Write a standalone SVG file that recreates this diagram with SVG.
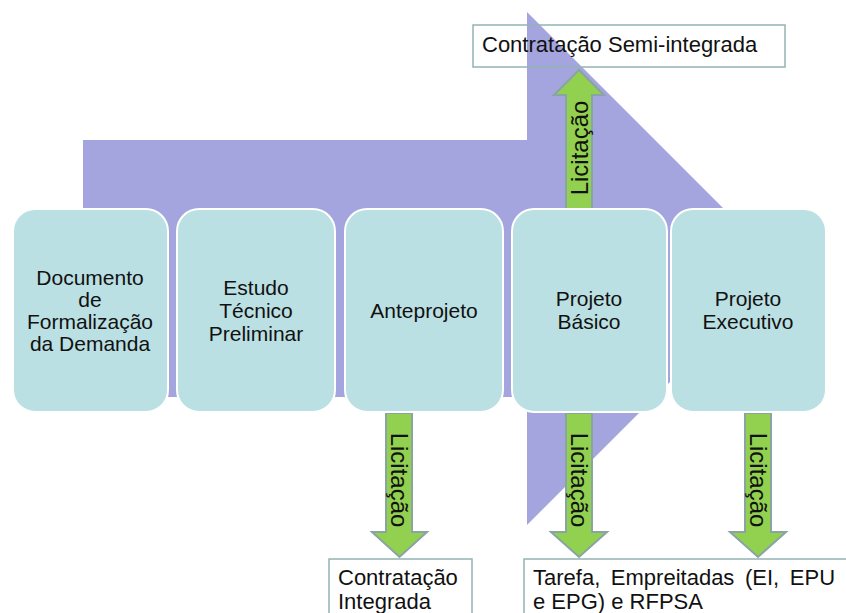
<svg xmlns="http://www.w3.org/2000/svg" width="846" height="613" viewBox="0 0 846 613">
<style>
.bg{fill:#a4a4df}
.node rect{fill:#bbe0e3;stroke:#ffffff;stroke-width:2}
.node text{font-family:"Liberation Sans",Arial,sans-serif;font-size:21px;fill:#111;text-anchor:middle}
.arrow{fill:#92d050;stroke:#8aa3a3;stroke-width:2}
.lbl{font-family:"Liberation Sans",Arial,sans-serif;font-size:24px;fill:#111;text-anchor:middle;dominant-baseline:central}
.out rect{fill:none;stroke:#94b3b3;stroke-width:1.5}
.out text{font-family:"Liberation Sans",Arial,sans-serif;font-size:22px;fill:#111}
</style>
<rect width="846" height="613" fill="#ffffff"/>
<polygon class="bg" points="83,140 527,140 527,12 783.5,268.5 527,525 527,397 83,397"/>

<g id="out-semi" class="out">
<rect x="473" y="25" width="312" height="42"/>
<text x="482" y="52">Contratação Semi-integrada</text>
</g>

<g id="connectors">
<g id="arrow-up">
<polygon class="arrow" points="566,213 566,95 554,95 579,70 604,95 592,95 592,213"/>
<text class="lbl" transform="translate(579,148) rotate(-90)">Licitação</text>
</g>
<g id="arrow-down-1">
<polygon class="arrow" points="386,413 412,413 412,532 427,532 399.5,557 372,532 386,532"/>
<text class="lbl" transform="translate(399,480) rotate(90)">Licitação</text>
</g>
<g id="arrow-down-2">
<polygon class="arrow" points="566,413 592,413 592,532 607,532 579,557 551,532 566,532"/>
<text class="lbl" transform="translate(579,480) rotate(90)">Licitação</text>
</g>
<g id="arrow-down-3">
<polygon class="arrow" points="745,413 771,413 771,532 786,532 758,557 730,532 745,532"/>
<text class="lbl" transform="translate(758,480) rotate(90)">Licitação</text>
</g>
</g>

<g id="n1" class="node">
<rect x="13" y="209" width="155" height="203" rx="22"/>
<text x="90" y="285">Documento</text>
<text x="90" y="307">de</text>
<text x="90" y="329">Formalização</text>
<text x="90" y="351">da Demanda</text>
</g>
<g id="n2" class="node">
<rect x="177" y="209" width="158" height="203" rx="22"/>
<text x="256" y="295">Estudo</text>
<text x="256" y="318">Técnico</text>
<text x="256" y="341">Preliminar</text>
</g>
<g id="n3" class="node">
<rect x="345" y="209" width="158" height="203" rx="22"/>
<text x="424" y="318">Anteprojeto</text>
</g>
<g id="n4" class="node">
<rect x="512" y="209" width="155" height="203" rx="22"/>
<text x="589" y="306">Projeto</text>
<text x="589" y="329">Básico</text>
</g>
<g id="n5" class="node">
<rect x="671" y="209" width="155" height="203" rx="22"/>
<text x="748" y="306">Projeto</text>
<text x="748" y="329">Executivo</text>
</g>

<g id="out-integrada" class="out">
<rect x="329" y="559" width="143" height="70"/>
<text x="338" y="585">Contratação</text>
<text x="338" y="609">Integrada</text>
</g>
<g id="out-tarefa" class="out">
<rect x="524" y="559" width="340" height="70"/>
<text x="533" y="585" word-spacing="4.5">Tarefa, Empreitadas (EI, EPU</text>
<text x="533" y="609">e EPG) e RFPSA</text>
</g>
</svg>
